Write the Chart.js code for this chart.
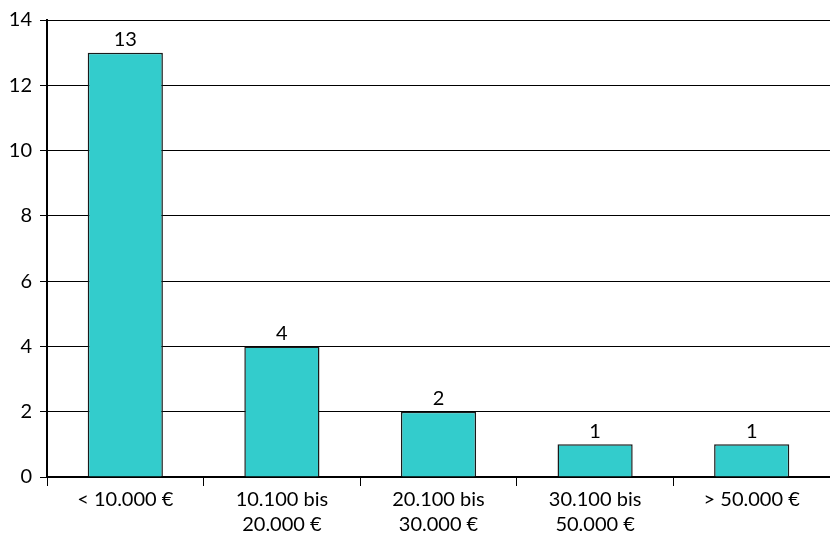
<!DOCTYPE html>
<html>
<head>
<meta charset="utf-8">
<script src="https://cdn.jsdelivr.net/npm/chart.js@4/dist/chart.umd.min.js"></script>
<style>
  html, body { margin: 0; padding: 0; background: #fff; }
  #wrap { width: 830px; height: 538px; }
</style>
</head>
<body>
<div id="wrap"><canvas id="c" width="830" height="538"></canvas></div>
<script>
const categories = [
  '< 10.000 €',
  ['10.100 bis', '20.000 €'],
  ['20.100 bis', '30.000 €'],
  ['30.100 bis', '50.000 €'],
  '> 50.000 €'
];
const counts = [13, 4, 2, 1, 1];
const yTicks = [0, 2, 4, 6, 8, 10, 12, 14];

const FONT = 'Lato, "DejaVu Sans", sans-serif';

// writes each bar's value just above it
const valueLabels = {
  id: 'valueLabels',
  afterDatasetsDraw(chart) {
    const ctx = chart.ctx;
    const meta = chart.getDatasetMeta(0);
    ctx.save();
    ctx.fillStyle = '#000';
    ctx.font = '20px ' + FONT;
    ctx.textAlign = 'center';
    ctx.textBaseline = 'bottom';
    meta.data.forEach((bar, i) => {
      ctx.fillText(String(counts[i]), bar.x, bar.y - 3);
    });
    ctx.restore();
  }
};

new Chart(document.getElementById('c'), {
  type: 'bar',
  data: {
    labels: categories,
    datasets: [{
      data: counts,
      backgroundColor: '#33CCCC',
      borderColor: '#1a1a1a',
      borderWidth: 1.5,
      categoryPercentage: 0.48,
      barPercentage: 1.0
    }]
  },
  options: {
    responsive: false,
    animation: false,
    devicePixelRatio: 1,
    layout: { padding: { top: 20, right: 0, left: 0, bottom: 0 } },
    plugins: {
      legend: { display: false },
      tooltip: { enabled: false }
    },
    scales: {
      x: {
        offset: true,
        grid: {
          offset: true,
          drawOnChartArea: false,
          drawTicks: true,
          tickLength: 9,
          color: '#000',
          lineWidth: 1
        },
        border: { color: '#000', width: 2 },
        ticks: {
          color: '#000',
          font: { family: FONT, size: 20, lineHeight: 1.25 },
          padding: 1,
          maxRotation: 0,
          autoSkip: false
        }
      },
      y: {
        min: 0,
        max: 14,
        afterBuildTicks(axis) { axis.ticks = yTicks.map(v => ({ value: v })); },
        grid: {
          color: '#000',
          lineWidth: 1,
          drawTicks: true,
          tickLength: 7
        },
        border: { color: '#000', width: 2 },
        ticks: {
          color: '#000',
          font: { family: FONT, size: 20 },
          padding: 8
        },
        afterFit(axis) { axis.width = 47; }
      }
    }
  },
  plugins: [valueLabels]
});
</script>
</body>
</html>
